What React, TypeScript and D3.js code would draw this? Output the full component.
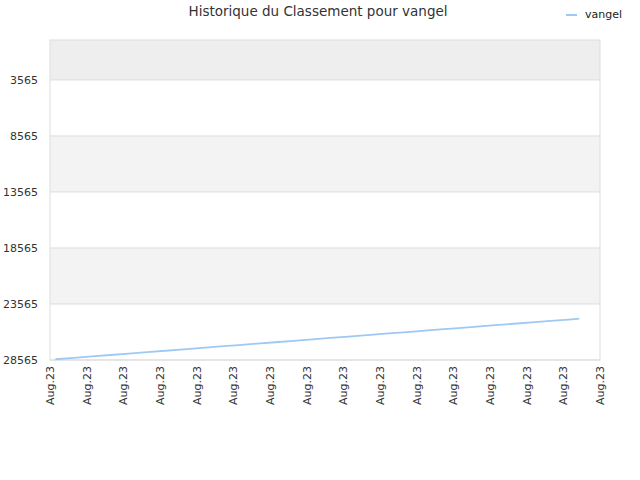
import { useMemo } from "react";
import * as d3 from "d3";

// Rank history (lower number = better rank)
const DATES = [
  "2023-08-01T07:00", "2023-08-02T07:00", "2023-08-03T07:00", "2023-08-04T07:00",
  "2023-08-05T07:00", "2023-08-06T07:00", "2023-08-07T07:00", "2023-08-08T07:00",
  "2023-08-09T07:00", "2023-08-10T07:00", "2023-08-11T07:00", "2023-08-12T07:00",
  "2023-08-13T07:00", "2023-08-14T07:00", "2023-08-15T07:00", "2023-08-16T07:00",
  "2023-08-17T07:00", "2023-08-18T07:00", "2023-08-19T07:00", "2023-08-20T07:00",
  "2023-08-21T07:00", "2023-08-22T07:00", "2023-08-23T07:00", "2023-08-24T07:00",
  "2023-08-25T07:00", "2023-08-26T07:00", "2023-08-27T07:00", "2023-08-28T07:00",
  "2023-08-29T07:00", "2023-08-29T21:00",
];
const RANKS = [
  28497, 28372, 28246, 28118, 27990, 27863, 27738, 27610,
  27485, 27357, 27232, 27104, 26979, 26850, 26725, 26597,
  26472, 26344, 26219, 26090, 25966, 25837, 25712, 25584,
  25459, 25331, 25206, 25077, 24952, 24878,
];
const Y_TICKS = [3565, 8565, 13565, 18565, 23565, 28565];
const X_TICKS = [
  "2023-08-01", "2023-08-03", "2023-08-05", "2023-08-07", "2023-08-09",
  "2023-08-11", "2023-08-13", "2023-08-15", "2023-08-17", "2023-08-19",
  "2023-08-21", "2023-08-23", "2023-08-25", "2023-08-27", "2023-08-29",
  "2023-08-31",
];
const SERIES_NAME = "vangel";
const TITLE = "Historique du Classement pour vangel";

const W = 640;
const H = 480;
const margin = { top: 40, right: 40, bottom: 120, left: 50 };
const FONT = "'DejaVu Sans', sans-serif";
const LINE_COLOR = "#9dc9f5";

export default function App() {
  const innerW = W - margin.left - margin.right;
  const innerH = H - margin.top - margin.bottom;

  const parse = d3.timeParse("%Y-%m-%dT%H:%M");
  const parseDay = d3.timeParse("%Y-%m-%d");

  const data = useMemo(
    () => DATES.map((d, i) => ({ date: parse(d) as Date, rank: RANKS[i] })),
    []
  );
  const xTicks = X_TICKS.map((d) => parseDay(d) as Date);

  const x = d3
    .scaleTime()
    .domain([xTicks[0], xTicks[xTicks.length - 1]])
    .range([0, innerW]);

  const y = d3.scaleLinear().domain([0, 28565]).range([0, innerH]);

  const line = d3
    .line<{ date: Date; rank: number }>()
    .x((d) => x(d.date))
    .y((d) => y(d.rank));

  // alternating bands between y ticks
  const bandEdges = [0, ...Y_TICKS];
  const bands = bandEdges.slice(0, -1).map((v, i) => ({
    y0: v,
    y1: bandEdges[i + 1],
    fill: i === 0 ? "#eeeeee" : i % 2 === 0 ? "#f3f3f3" : "#ffffff",
  }));

  const fmt = d3.timeFormat("%b.%y");

  return (
    <svg
      width={W}
      height={H}
      style={{ position: "absolute", left: 0, top: 0, background: "#fff" }}
      fontFamily={FONT}
    >
      <text
        x={318}
        y={16}
        textAnchor="middle"
        fontSize={13.5}
        fill="#333"
      >
        {TITLE}
      </text>

      {/* legend */}
      <line x1={566} x2={577} y1={15} y2={15} stroke={LINE_COLOR} strokeWidth={2} />
      <text x={585} y={18} fontSize={11} fill="#222">
        {SERIES_NAME}
      </text>

      <g transform={`translate(${margin.left},${margin.top})`}>
        {bands.map((b, i) => (
          <rect
            key={i}
            x={0}
            y={y(b.y0)}
            width={innerW}
            height={y(b.y1) - y(b.y0)}
            fill={b.fill}
          />
        ))}
        {Y_TICKS.map((t) => (
          <g key={t}>
            <line x1={0} x2={innerW} y1={y(t)} y2={y(t)} stroke="#dddddd" />
            <text
              x={-12}
              y={y(t)}
              dy="0.35em"
              textAnchor="end"
              fontSize={11}
              fill="#333"
            >
              {t}
            </text>
          </g>
        ))}
        <rect
          x={0}
          y={0}
          width={innerW}
          height={innerH}
          fill="none"
          stroke="#dddddd"
        />

        <path d={line(data) ?? ""} fill="none" stroke={LINE_COLOR} strokeWidth={1.8} />

        {xTicks.map((t, i) => (
          <text
            key={i}
            transform={`translate(${x(t)},${innerH + 6}) rotate(-90)`}
            dy="0.35em"
            textAnchor="end"
            fontSize={11}
            fill="#333"
          >
            {fmt(t)}
          </text>
        ))}
      </g>
    </svg>
  );
}
